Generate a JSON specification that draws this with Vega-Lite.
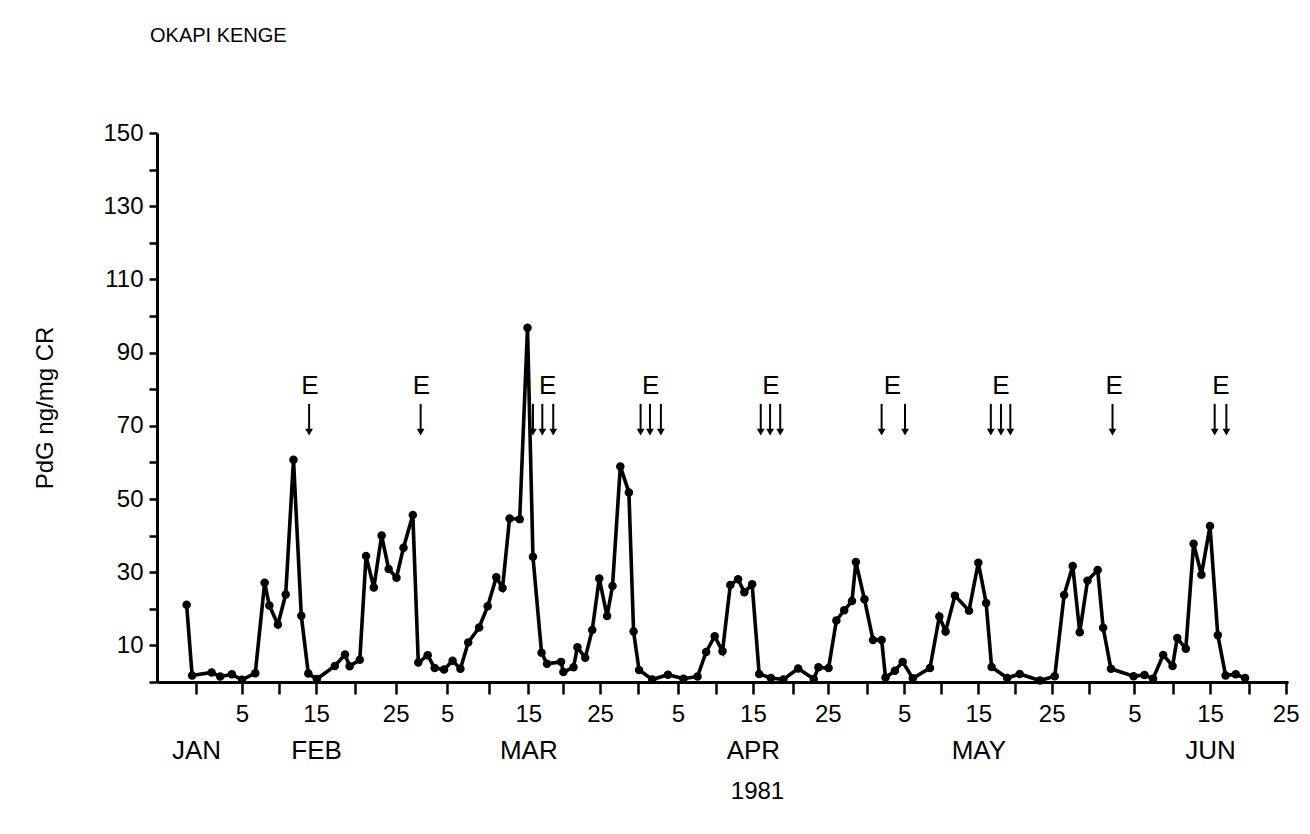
{
  "$schema": "https://vega.github.io/schema/vega-lite/v6.json",
  "width": 1131,
  "height": 549,
  "autosize": "none",
  "padding": {"left": 157, "top": 133, "right": 22, "bottom": 152},
  "background": "white",
  "config": {
    "view": {"stroke": null},
    "font": "Liberation Sans",
    "axis": {"grid": false, "labelColor": "black", "domainColor": "black", "tickColor": "black", "titleColor": "black", "titleFontWeight": "normal", "labelFont": "Liberation Sans", "titleFont": "Liberation Sans"}
  },
  "title": {"text": "OKAPI KENGE", "anchor": "start", "frame": "group", "fontSize": 20, "fontWeight": "normal", "color": "black", "font": "Liberation Sans", "baseline": "bottom", "offset": 55, "dx": -7},
  "datasets": {
    "pdg": [
      {"day": -1.2, "v": 21.1}, {"day": -0.5, "v": 1.8}, {"day": 2.0, "v": 2.6}, {"day": 3.1, "v": 1.5}, {"day": 4.6, "v": 2.1},
      {"day": 5.9, "v": 0.6}, {"day": 7.6, "v": 2.4}, {"day": 8.8, "v": 27.1}, {"day": 9.4, "v": 20.9}, {"day": 10.5, "v": 15.7},
      {"day": 11.5, "v": 23.9}, {"day": 12.5, "v": 60.7}, {"day": 13.5, "v": 18.1}, {"day": 14.4, "v": 2.3}, {"day": 15.5, "v": 0.8},
      {"day": 17.8, "v": 4.4}, {"day": 19.1, "v": 7.5}, {"day": 19.7, "v": 4.3}, {"day": 21.0, "v": 6.1}, {"day": 21.8, "v": 34.4},
      {"day": 22.8, "v": 25.8}, {"day": 23.8, "v": 40.0}, {"day": 24.7, "v": 30.9}, {"day": 25.7, "v": 28.5}, {"day": 26.6, "v": 36.7},
      {"day": 27.8, "v": 45.6}, {"day": 28.5, "v": 5.3}, {"day": 29.7, "v": 7.3}, {"day": 30.6, "v": 3.8}, {"day": 31.8, "v": 3.4},
      {"day": 32.9, "v": 5.8}, {"day": 33.9, "v": 3.6}, {"day": 34.9, "v": 10.8}, {"day": 36.3, "v": 14.9}, {"day": 37.4, "v": 20.7},
      {"day": 38.5, "v": 28.6}, {"day": 39.3, "v": 25.7}, {"day": 40.2, "v": 44.7}, {"day": 41.5, "v": 44.5}, {"day": 42.5, "v": 96.8},
      {"day": 43.2, "v": 34.2}, {"day": 44.3, "v": 8.0}, {"day": 45.0, "v": 5.0}, {"day": 46.8, "v": 5.5}, {"day": 47.1, "v": 2.7},
      {"day": 48.4, "v": 4.0}, {"day": 48.9, "v": 9.5}, {"day": 49.9, "v": 6.6}, {"day": 50.8, "v": 14.2}, {"day": 51.7, "v": 28.3},
      {"day": 52.7, "v": 18.0}, {"day": 53.4, "v": 26.2}, {"day": 54.4, "v": 58.9}, {"day": 55.5, "v": 51.8}, {"day": 56.1, "v": 13.8},
      {"day": 56.8, "v": 3.3}, {"day": 58.5, "v": 0.7}, {"day": 60.5, "v": 2.0}, {"day": 62.5, "v": 0.9}, {"day": 64.3, "v": 1.5},
      {"day": 65.4, "v": 8.2}, {"day": 66.5, "v": 12.5}, {"day": 67.5, "v": 8.4}, {"day": 68.5, "v": 26.5}, {"day": 69.5, "v": 28.1},
      {"day": 70.3, "v": 24.5}, {"day": 71.3, "v": 26.7}, {"day": 72.2, "v": 2.2}, {"day": 73.7, "v": 1.1}, {"day": 75.3, "v": 0.7},
      {"day": 77.2, "v": 3.7}, {"day": 79.2, "v": 0.8}, {"day": 79.8, "v": 4.0}, {"day": 81.1, "v": 3.8}, {"day": 82.1, "v": 16.8},
      {"day": 83.1, "v": 19.6}, {"day": 84.1, "v": 22.1}, {"day": 84.6, "v": 32.8}, {"day": 85.7, "v": 22.6}, {"day": 86.8, "v": 11.5},
      {"day": 87.9, "v": 11.5}, {"day": 88.4, "v": 1.2}, {"day": 89.6, "v": 3.1}, {"day": 90.6, "v": 5.5}, {"day": 91.9, "v": 1.0},
      {"day": 94.1, "v": 3.8}, {"day": 95.3, "v": 17.9}, {"day": 96.1, "v": 13.8}, {"day": 97.3, "v": 23.6}, {"day": 99.1, "v": 19.5},
      {"day": 100.3, "v": 32.6}, {"day": 101.3, "v": 21.6}, {"day": 102.0, "v": 4.1}, {"day": 104.0, "v": 1.1}, {"day": 105.6, "v": 2.2},
      {"day": 108.2, "v": 0.4}, {"day": 110.1, "v": 1.6}, {"day": 111.3, "v": 23.8}, {"day": 112.4, "v": 31.7}, {"day": 113.3, "v": 13.6},
      {"day": 114.3, "v": 27.7}, {"day": 115.6, "v": 30.6}, {"day": 116.3, "v": 14.8}, {"day": 117.3, "v": 3.6}, {"day": 120.2, "v": 1.6},
      {"day": 121.6, "v": 1.9}, {"day": 122.7, "v": 0.9}, {"day": 124.0, "v": 7.4}, {"day": 125.2, "v": 4.4}, {"day": 125.8, "v": 12.0},
      {"day": 126.9, "v": 9.1}, {"day": 127.9, "v": 37.8}, {"day": 128.9, "v": 29.3}, {"day": 130.0, "v": 42.6}, {"day": 131.0, "v": 12.8},
      {"day": 132.0, "v": 1.8}, {"day": 133.3, "v": 2.1}, {"day": 134.5, "v": 1.1}
    ],
    "arrows": [
      {"day": 14.5}, {"day": 28.8}, {"day": 43.2}, {"day": 44.4}, {"day": 45.8},
      {"day": 57.0}, {"day": 58.2}, {"day": 59.6}, {"day": 72.4}, {"day": 73.6}, {"day": 74.9},
      {"day": 87.9}, {"day": 90.9}, {"day": 101.9}, {"day": 103.2}, {"day": 104.4},
      {"day": 117.5}, {"day": 130.6}, {"day": 132.1}
    ],
    "elabels": [
      {"day": 14.6, "t": "E"}, {"day": 28.9, "t": "E"}, {"day": 45.1, "t": "E"}, {"day": 58.3, "t": "E"}, {"day": 73.7, "t": "E"},
      {"day": 89.3, "t": "E"}, {"day": 103.2, "t": "E"}, {"day": 117.7, "t": "E"}, {"day": 131.4, "t": "E"}
    ]
  },
  "layer": [
    {
      "data": {"name": "pdg"},
      "mark": {"type": "line", "color": "black", "strokeWidth": 3.6},
      "encoding": {
        "x": {
          "field": "day", "type": "quantitative",
          "scale": {"domain": [-5, 140], "nice": false, "zero": false},
          "axis": {
            "orient": "bottom", "title": null,
            "values": [0, 5.9, 10.6, 15.4, 20.4, 25.6, 32.2, 37.6, 42.6, 47.1, 51.8, 56.7, 61.8, 66.7, 71.4, 76.5, 81.0, 86.0, 90.8, 95.5, 100.3, 105.0, 109.7, 114.5, 120.3, 125.3, 130.0, 135.0, 139.7],
            "labelExpr": "['', '5', '', '15', '', '25', '5', '', '15', '', '25', '', '5', '', '15', '', '25', '', '5', '', '15', '', '25', '', '5', '', '15', '', '25'][indexof([0, 5.9, 10.6, 15.4, 20.4, 25.6, 32.2, 37.6, 42.6, 47.1, 51.8, 56.7, 61.8, 66.7, 71.4, 76.5, 81.0, 86.0, 90.8, 95.5, 100.3, 105.0, 109.7, 114.5, 120.3, 125.3, 130.0, 135.0, 139.7], datum.value)]",
            "tickSize": 12, "tickWidth": 2.5, "domainWidth": 3,
            "labelFontSize": 24, "labelPadding": 8, "labelFlush": false, "labelOverlap": false, "labelBound": false
          }
        },
        "y": {
          "field": "v", "type": "quantitative",
          "scale": {"domain": [0, 150], "nice": false, "zero": false},
          "axis": {
            "orient": "left",
            "title": "PdG ng/mg CR", "titleFontSize": 24, "titlePadding": 45,
            "values": [0, 10, 20, 30, 40, 50, 60, 70, 80, 90, 100, 110, 120, 130, 140, 150],
            "labelExpr": "datum.value % 20 == 10 ? datum.label : ''",
            "tickSize": 8, "tickWidth": 2.5, "domainWidth": 3,
            "labelFontSize": 24, "labelPadding": 6, "labelOverlap": false, "labelFlush": false, "labelBound": false
          }
        }
      }
    },
    {
      "data": {"name": "pdg"},
      "mark": {"type": "point", "filled": true, "color": "black", "opacity": 1, "size": 72},
      "encoding": {
        "x": {
          "field": "day", "type": "quantitative",
          "scale": {"domain": [-5, 140], "nice": false, "zero": false},
          "axis": {
            "orient": "bottom", "title": "1981", "titleFontSize": 24, "titlePadding": 16, "titleX": 600, "titleAlign": "center",
            "values": [0, 15.4, 42.6, 71.4, 100.3, 130.0],
            "labelExpr": "['JAN', 'FEB', 'MAR', 'APR', 'MAY', 'JUN'][indexof([0, 15.4, 42.6, 71.4, 100.3, 130.0], datum.value)]",
            "domain": false, "ticks": false, "labelFontSize": 26, "labelPadding": 55,
            "labelFlush": false, "labelOverlap": false, "labelBound": false
          }
        },
        "y": {"field": "v", "type": "quantitative", "scale": {"domain": [0, 150], "nice": false, "zero": false}, "axis": null}
      }
    },
    {
      "data": {"name": "arrows"},
      "mark": {"type": "rule", "color": "black", "strokeWidth": 2},
      "encoding": {
        "x": {"field": "day", "type": "quantitative", "scale": {"domain": [-5, 140], "nice": false, "zero": false}, "axis": null},
        "y": {"datum": 76, "type": "quantitative", "scale": {"domain": [0, 150], "nice": false, "zero": false}, "axis": null},
        "y2": {"datum": 69}
      }
    },
    {
      "data": {"name": "arrows"},
      "mark": {"type": "point", "shape": "triangle-down", "filled": true, "color": "black", "opacity": 1, "size": 60},
      "encoding": {
        "x": {"field": "day", "type": "quantitative", "scale": {"domain": [-5, 140], "nice": false, "zero": false}, "axis": null},
        "y": {"datum": 68.3, "type": "quantitative", "scale": {"domain": [0, 150], "nice": false, "zero": false}, "axis": null}
      }
    },
    {
      "data": {"name": "elabels"},
      "mark": {"type": "text", "color": "black", "fontSize": 26, "font": "Liberation Sans", "baseline": "middle", "align": "center"},
      "encoding": {
        "x": {"field": "day", "type": "quantitative", "scale": {"domain": [-5, 140], "nice": false, "zero": false}, "axis": null},
        "y": {"datum": 81, "type": "quantitative", "scale": {"domain": [0, 150], "nice": false, "zero": false}, "axis": null},
        "text": {"field": "t"}
      }
    }
  ],
  "resolve": {"axis": {"x": "independent", "y": "independent"}}
}
